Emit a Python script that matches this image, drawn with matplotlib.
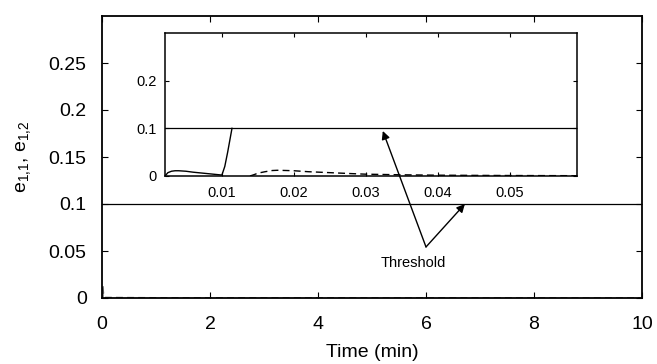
import matplotlib
matplotlib.use("Agg")
import matplotlib.pyplot as plt
import numpy as np

plt.rcParams['font.family'] = ['Liberation Sans', 'DejaVu Sans']
plt.rcParams['mathtext.default'] = 'regular'

# e_{1,1} (solid) and e_{1,2} (dashed), time in minutes
t_e11 = [0.0021, 0.0025, 0.003, 0.0035, 0.004, 0.005, 0.006, 0.007, 0.008, 0.009, 0.010,
         0.0104, 0.0108, 0.0111, 0.0114]
e11 = [0.0, 0.007, 0.010, 0.011, 0.011, 0.010, 0.008, 0.0065, 0.005, 0.0035, 0.002,
       0.02, 0.05, 0.075, 0.1]
t_e12 = [0.0139, 0.0145, 0.015, 0.016, 0.017, 0.0177, 0.019, 0.020, 0.022, 0.025, 0.028,
         0.030, 0.035, 0.040, 0.045, 0.050, 0.055, 0.060, 1.0, 5.0, 10.0]
e12 = [0.0, 0.003, 0.006, 0.009, 0.0115, 0.012, 0.0115, 0.011, 0.009, 0.007, 0.005,
       0.0038, 0.0025, 0.0017, 0.0013, 0.001, 0.0008, 0.0006, 0.0003, 0.0002, 0.0001]
threshold = 0.1

main_xticks = [0, 2, 4, 6, 8, 10]
main_yticks = [0, 0.05, 0.1, 0.15, 0.2, 0.25]
main_ytick_labels = ['0', '0.05', '0.1', '0.15', '0.2', '0.25']
inset_xticks = [0.01, 0.02, 0.03, 0.04, 0.05]
inset_yticks = [0, 0.1, 0.2]
inset_ytick_labels = ['0', '0.1', '0.2']

fig = plt.figure(figsize=(6.57, 3.64), dpi=100)
ax = fig.add_axes([102/657, 66/364, 540/657, 282/364])
# main view: the pre-threshold part of e11 (spike is off-scale at this width)
ax.plot(t_e11[:11], e11[:11], color='black', lw=1.0)
ax.plot(t_e12, e12, color='#555555', lw=1.0, ls=(0, (5, 3)))
ax.axhline(threshold, color='black', lw=0.9)
ax.set_xlim(0, 10)
ax.set_ylim(0, 0.3)
ax.set_xticks(main_xticks)
ax.set_xticklabels([str(v) for v in main_xticks])
ax.set_yticks(main_yticks)
ax.set_yticklabels(main_ytick_labels)
ax.tick_params(direction='in', top=True, right=True, labelsize=14, length=4, width=0.8)
ax.tick_params(axis='x', pad=13)
ax.tick_params(axis='y', pad=11)
for s in ax.spines.values():
    s.set_linewidth(1.3)
ax.set_xlabel('Time (min)', fontsize=14, labelpad=8)
ax.set_ylabel('e$_{1{,}1}$, e$_{1{,}2}$', fontsize=14, labelpad=11)

axi = fig.add_axes([165/657, 188/364, 412/657, 143/364])
axi.plot(t_e11, e11, color='black', lw=1.0)
axi.plot(t_e12, e12, color='black', lw=1.0, ls=(0, (5, 3)))
axi.axhline(threshold, color='black', lw=0.9)
axi.set_xlim(0.0021, 0.0593)
axi.set_ylim(0, 0.3)
axi.set_xticks(inset_xticks)
axi.set_xticklabels(['%.2f' % v for v in inset_xticks])
axi.set_yticks(inset_yticks)
axi.set_yticklabels(inset_ytick_labels)
axi.tick_params(direction='in', top=True, right=True, labelsize=10.5, length=3, width=0.8)
axi.tick_params(axis='x', pad=7)
axi.tick_params(axis='y', pad=6)
for s in axi.spines.values():
    s.set_linewidth(1.1)

# Threshold annotation (main axes data coordinates)
junction = (6.0, 0.0543)
for tip in [(5.20, 0.1777), (6.72, 0.1)]:
    axi.annotate('', xy=tip, xycoords=ax.transData, xytext=junction, textcoords=ax.transData,
                 arrowprops=dict(arrowstyle='-|>', color='black', lw=1.0,
                                 mutation_scale=12, shrinkA=0, shrinkB=0),
                 annotation_clip=False)
ax.text(5.76, 0.037, 'Threshold', fontsize=10.5, ha='center', va='center')

fig.savefig('out.png', dpi=100)
